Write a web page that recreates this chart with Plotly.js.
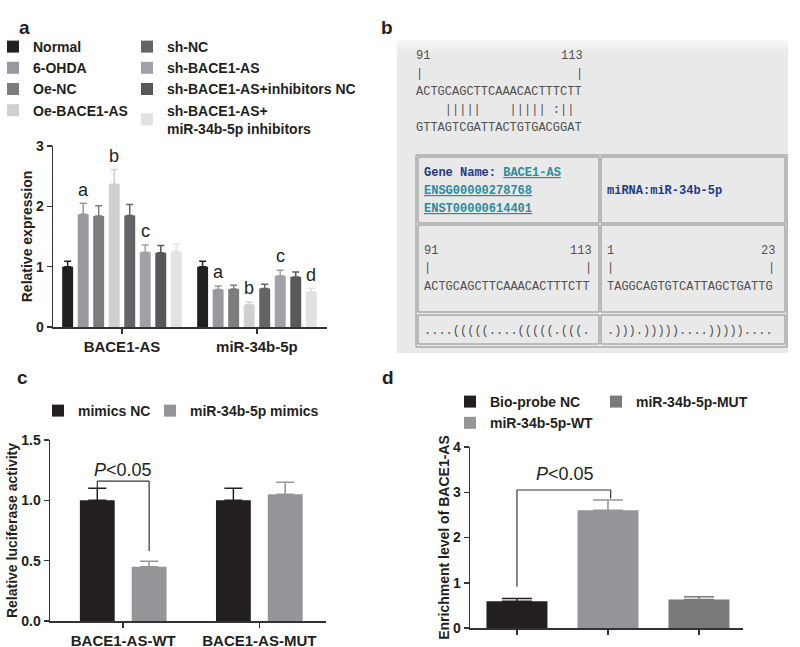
<!DOCTYPE html>
<html>
<head>
<meta charset="utf-8">
<script src="https://cdn.plot.ly/plotly-3.0.1.min.js"></script>
<style>
  body { margin: 0; background: #fff; }
  #fig { width: 800px; height: 647px; }
</style>
</head>
<body>
<div id="fig"></div>
<script>
// ---- panel a : expression of BACE1-AS / miR-34b-5p ----
const groupsA = ['Normal', '6-OHDA', 'Oe-NC', 'Oe-BACE1-AS', 'sh-NC', 'sh-BACE1-AS',
  'sh-BACE1-AS+inhibitors NC', 'sh-BACE1-AS+<br>miR-34b-5p inhibitors'];
const genesA = ['BACE1-AS', 'miR-34b-5p'];
const baceMean = [1.00, 1.87, 1.84, 2.37, 1.85, 1.24, 1.23, 1.25];
const baceTop = [1.09, 2.05, 2.01, 2.61, 2.03, 1.36, 1.35, 1.37];
const mirMean = [1.00, 0.62, 0.63, 0.37, 0.64, 0.85, 0.83, 0.58];
const mirTop = [1.09, 0.68, 0.69, 0.41, 0.71, 0.94, 0.91, 0.64];
const lettersBace = ['', 'a', '', 'b', '', 'c', '', ''];
const lettersMir = ['', 'a', '', 'b', '', 'c', '', 'd'];

// ---- panel c : luciferase ----
const lucCats = ['BACE1-AS-WT', 'BACE1-AS-MUT'];
const lucNames = ['mimics NC', 'miR-34b-5p mimics'];
const lucMean = [[1.00, 1.00], [0.45, 1.05]];
const lucTop = [[1.10, 1.10], [0.495, 1.15]];

// ---- panel d : RNA pull-down ----
const pullNames = ['Bio-probe NC', 'miR-34b-5p-WT', 'miR-34b-5p-MUT'];
const pullMean = [0.59, 2.60, 0.63];
const pullTop = [0.65, 2.83, 0.69];

// ---- panel b : sequence text ----
const seqGene = 'ACTGCAGCTTCAAACACTTTCTT';
const seqPair = '    |||||    ||||| :|| ';
const seqMirRev = 'GTTAGTCGATTACTGTGACGGAT';
const seqMir = 'TAGGCAGTGTCATTAGCTGATTG';
const foldGene = '....(((((....(((((.(((.';
const foldMir = '.))).)))))....)))))....';

const W = 800, H = 647;
const px = x => x / W;
const py = y => 1 - y / H;
const FONT = 'Liberation Sans, Arial, sans-serif';
const MONO = 'Liberation Mono, Courier New, monospace';
const ink = '#231f20';

const colorsA = ['#231f20', '#98999e', '#7d7d80', '#cfcfd0', '#646466', '#9ea1a8', '#58585a', '#e2e2e2'];
const colorsC = ['#231f20', '#939598'];
const colorsD = ['#231f20', '#939598', '#7a7a7d'];

var data = [];
var annotations = [];
var shapes = [];

// panel a bars
var slotA = 0.115, barWA = 0.081;
groupsA.forEach((g, i) => {
  var off = -4 * slotA + i * slotA + (slotA - barWA) / 2;
  data.push({
    type: 'bar', name: g, x: genesA, y: [baceMean[i], mirMean[i]],
    xaxis: 'x', yaxis: 'y', width: barWA, offset: off,
    marker: {color: colorsA[i], line: {width: 0}},
    error_y: {type: 'data', symmetric: false,
      array: [baceTop[i] - baceMean[i], mirTop[i] - mirMean[i]], arrayminus: [0, 0],
      color: colorsA[i], thickness: 1.5, width: 3.5},
    legend: i < 4 ? 'legend' : 'legend2', hoverinfo: 'skip'
  });
  [lettersBace, lettersMir].forEach((lt, k) => {
    if (!lt[i]) return;
    annotations.push({
      xref: 'x', yref: 'y', x: k + off + barWA / 2, y: (k ? mirTop : baceTop)[i] + 0.03,
      yanchor: 'bottom', showarrow: false, text: lt[i],
      font: {family: FONT, size: 18, color: ink}
    });
  });
});

// panel c bars
var slotC = 0.381, barWC = 0.256;
lucNames.forEach((n, i) => {
  var off = -slotC + i * slotC + (slotC - barWC) / 2;
  data.push({
    type: 'bar', name: n, x: lucCats, y: lucMean[i],
    xaxis: 'x2', yaxis: 'y2', width: barWC, offset: off,
    marker: {color: colorsC[i], line: {width: 0}},
    error_y: {type: 'data', symmetric: false,
      array: lucTop[i].map((t, j) => t - lucMean[i][j]), arrayminus: [0, 0],
      color: colorsC[i], thickness: 1.5, width: 9},
    legend: i === 0 ? 'legend3' : 'legend6', hoverinfo: 'skip'
  });
});

// panel d bars
pullNames.forEach((n, i) => {
  data.push({
    type: 'bar', name: n, x: [n], y: [pullMean[i]],
    xaxis: 'x3', yaxis: 'y3', width: 0.67, offset: -0.335,
    marker: {color: colorsD[i], line: {width: 0}},
    error_y: {type: 'data', symmetric: false,
      array: [pullTop[i] - pullMean[i]], arrayminus: [0],
      color: colorsD[i], thickness: 1.5, width: 15},
    legend: i < 2 ? 'legend4' : 'legend5', hoverinfo: 'skip'
  });
});

// significance brackets
var lineStyle = {color: '#333', width: 1.2};
var cL = -slotC / 2, cR = slotC / 2;
shapes.push(
  {type: 'line', xref: 'x2', yref: 'y2', x0: cL, x1: cR, y0: 1.16, y1: 1.16, line: lineStyle},
  {type: 'line', xref: 'x2', yref: 'y2', x0: cL, x1: cL, y0: 1.16, y1: 1.10, line: lineStyle},
  {type: 'line', xref: 'x2', yref: 'y2', x0: cR, x1: cR, y0: 1.16, y1: 0.58, line: lineStyle},
  {type: 'line', xref: 'x3', yref: 'y3', x0: 0, x1: 1.03, y0: 3.05, y1: 3.05, line: lineStyle},
  {type: 'line', xref: 'x3', yref: 'y3', x0: 0, x1: 0, y0: 3.05, y1: 0.91, line: lineStyle},
  {type: 'line', xref: 'x3', yref: 'y3', x0: 1.03, x1: 1.03, y0: 3.05, y1: 2.86, line: lineStyle}
);
annotations.push(
  {xref: 'x2', yref: 'y2', x: 0, y: 1.25, showarrow: false, text: '<i>P</i>&lt;0.05',
    font: {family: FONT, size: 18, color: ink}},
  {xref: 'x3', yref: 'y3', x: 0.53, y: 3.4, showarrow: false, text: '<i>P</i>&lt;0.05',
    font: {family: FONT, size: 18, color: ink}}
);

// panel b : screenshot-like sequence box
var bg = '#e9e9e9';
function rect(x0, y0, x1, y1, fill, lc) {
  shapes.push({type: 'rect', xref: 'paper', yref: 'paper', x0: px(x0), x1: px(x1), y0: py(y0), y1: py(y1),
    fillcolor: fill || 'rgba(0,0,0,0)', line: {color: lc || 'rgba(0,0,0,0)', width: lc ? 1 : 0}, layer: 'below'});
}
rect(397, 40, 788, 353, bg);
rect(397, 40, 788, 44, '#f6f6f6');
rect(397, 44, 788, 48, '#f1f1f1');
rect(397, 48, 788, 53, '#ececec');
rect(416, 155, 787, 347, null, '#8c8c8c');
rect(418, 157, 599, 223, null, '#8c8c8c');
rect(601, 157, 785, 223, null, '#8c8c8c');
rect(418, 225, 599, 312, null, '#8c8c8c');
rect(601, 225, 785, 312, null, '#8c8c8c');
rect(418, 315, 599, 344, null, '#8c8c8c');
rect(601, 315, 785, 344, null, '#8c8c8c');

const nb = s => s.replace(/ /g, '\u00a0');
const ul = s => '<span style="text-decoration:underline">' + s + '</span>';
function txt(x, y, s, anchor, color, bold) {
  annotations.push({xref: 'paper', yref: 'paper', x: px(x), y: py(y), xanchor: anchor || 'left',
    yanchor: 'middle', showarrow: false, text: s,
    font: {family: MONO, size: 12, color: color || '#505050', weight: bold ? 'bold' : 'normal'}});
}
txt(414, 56, '91'); txt(585, 56, '113', 'right');
txt(414, 74, '|'); txt(585, 74, '|', 'right');
txt(414, 92, seqGene);
txt(414, 110, nb(seqPair));
txt(414, 128, seqMirRev);
annotations.push({xref: 'paper', yref: 'paper', x: px(422), y: py(173), xanchor: 'left', yanchor: 'middle',
  showarrow: false, text: nb('Gene Name: ') + '<span style="text-decoration:underline;fill:#2b8c9c">BACE1-AS</span>',
  font: {family: MONO, size: 12, color: '#233a86', weight: 'bold'}});
txt(422, 191, ul('ENSG00000278768'), 'left', '#2b8c9c', true);
txt(422, 209, ul('ENST00000614401'), 'left', '#2b8c9c', true);
txt(605, 191, 'miRNA:miR-34b-5p', 'left', '#233a86', true);
txt(422, 251, '91'); txt(594, 251, '113', 'right');
txt(422, 268, '|'); txt(594, 268, '|', 'right');
txt(422, 287, seqGene);
txt(605, 251, '1'); txt(777, 251, '23', 'right');
txt(605, 268, '|'); txt(777, 268, '|', 'right');
txt(605, 287, seqMir);
txt(422, 331, foldGene);
txt(605, 331, foldMir);

// panel letters
[['a', 17, 15], ['b', 387, 15], ['c', 15, 377], ['d', 388, 377]].forEach(p => {
  annotations.push({xref: 'paper', yref: 'paper', x: px(p[1]), y: py(p[2]), showarrow: false,
    text: p[0], font: {family: FONT, size: 19, weight: 'bold', color: ink}});
});

var axisFont = {family: FONT, size: 14, weight: 'bold', color: ink};
function yax(domain, range, dtick, anchor, title, fmt) {
  return {domain: domain, range: range, dtick: dtick, anchor: anchor, tickformat: fmt || '',
    showgrid: false, zeroline: false,
    showline: true, linecolor: '#333', linewidth: 1.5, ticks: 'outside', ticklen: 5, tickwidth: 1.5,
    tickcolor: '#333', tickfont: axisFont, fixedrange: true,
    title: {text: title, font: {family: FONT, size: 14, weight: 'bold', color: ink}, standoff: 0}};
}
function xax(domain, range, anchor, cats, showLabels) {
  return {domain: domain, range: range, anchor: anchor, type: 'category', categoryorder: 'array',
    categoryarray: cats, showgrid: false, zeroline: false, showline: true, linecolor: '#333',
    linewidth: 1.5, ticks: 'outside', ticklen: 5, tickwidth: 1.5, tickcolor: '#333',
    tickfont: {family: FONT, size: 15, weight: 'bold', color: ink}, showticklabels: showLabels, fixedrange: true};
}
function leg(x, y) {
  return {x: px(x), y: py(y), xanchor: 'left', yanchor: 'top', orientation: 'v',
    bgcolor: 'rgba(0,0,0,0)', font: axisFont, itemwidth: 30, tracegroupgap: 0, itemclick: false};
}

var layout = {
  width: W, height: H,
  margin: {l: 0, r: 0, t: 0, b: 0, autoexpand: false},
  paper_bgcolor: '#fff', plot_bgcolor: 'rgba(0,0,0,0)',
  barmode: 'overlay',
  showlegend: true,
  xaxis: xax([px(53), px(327)], [-0.511, 1.519], 'y', genesA, true),
  yaxis: yax([py(327), py(146)], [0, 3], 1, 'x', 'Relative expression'),
  xaxis2: xax([px(50), px(326)], [-0.538, 1.49], 'y2', lucCats, true),
  yaxis2: yax([py(621), py(440)], [0, 1.5], 0.5, 'x2', 'Relative luciferase activity', '.1f'),
  xaxis3: xax([px(470), px(743)], [-0.516, 2.484], 'y3', pullNames, false),
  yaxis3: yax([py(628), py(447)], [0, 4], 1, 'x3', 'Enrichment level of BACE1-AS'),
  legend: leg(-7, 31),
  legend2: leg(127, 31),
  legend3: leg(38, 395),
  legend6: leg(150, 395),
  legend4: leg(450, 386),
  legend5: leg(596, 386),
  shapes: shapes,
  annotations: annotations
};

Plotly.newPlot('fig', data, layout, {staticPlot: true});
</script>
</body>
</html>
